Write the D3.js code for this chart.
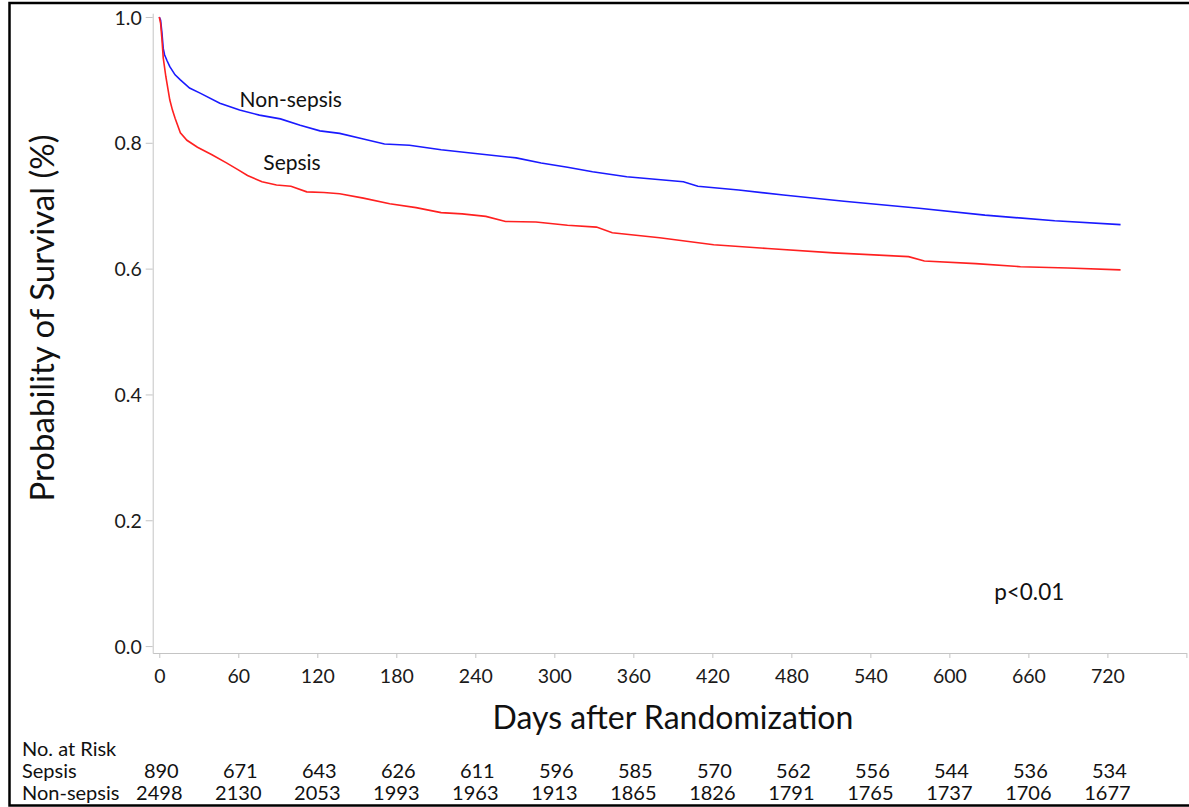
<!DOCTYPE html>
<html>
<head>
<meta charset="utf-8">
<script src="https://cdn.jsdelivr.net/npm/d3@7"></script>
<style>
  body { margin: 0; background: #fff; }
  svg { display: block; font-family: Lato, "Open Sans", sans-serif; }
  .axis path, .axis line { stroke: #c4c4c4; }
  .axis text { fill: #1a1a1a; font-size: 19.5px; font-family: Lato, sans-serif; }
</style>
</head>
<body>
<svg width="1189" height="807"></svg>
<script>
// Kaplan-Meier curves (days, survival probability)
const sepsisDays = [0, 1, 2, 3, 5, 8, 10, 12, 16, 21, 29, 40, 51, 60, 67, 78, 89, 100, 112, 125, 137, 155, 175, 195, 214, 230, 248, 263, 286, 310, 332, 344, 380, 421, 462, 512, 569, 581, 620, 654, 690, 730];
const sepsisSurv = [1.0, 0.99, 0.965, 0.935, 0.905, 0.868, 0.852, 0.839, 0.816, 0.804, 0.793, 0.781, 0.768, 0.757, 0.748, 0.738, 0.733, 0.731, 0.722, 0.721, 0.719, 0.712, 0.703, 0.697, 0.689, 0.687, 0.683, 0.675, 0.674, 0.669, 0.666, 0.657, 0.649, 0.638, 0.632, 0.625, 0.619, 0.612, 0.608, 0.603, 0.601, 0.598];

const nonSepsisDays = [0, 1, 2, 3, 4, 6, 8, 12, 16, 23, 31, 46, 61, 76, 92, 107, 122, 137, 155, 171, 190, 214, 240, 271, 290, 310, 329, 355, 398, 409, 440, 474, 520, 577, 627, 680, 730];
const nonSepsisSurv = [1.0, 0.995, 0.975, 0.95, 0.94, 0.93, 0.921, 0.908, 0.9, 0.887, 0.879, 0.863, 0.852, 0.844, 0.838, 0.828, 0.819, 0.815, 0.806, 0.798, 0.796, 0.789, 0.783, 0.776, 0.768, 0.761, 0.754, 0.746, 0.738, 0.731, 0.725, 0.717, 0.707, 0.696, 0.685, 0.676, 0.67];

const xTicks = [0, 60, 120, 180, 240, 300, 360, 420, 480, 540, 600, 660, 720, 780];
const yTicks = [0.0, 0.2, 0.4, 0.6, 0.8, 1.0];

const riskDays = [0, 60, 120, 180, 240, 300, 360, 420, 480, 540, 600, 660, 720];
const riskSepsis = [890, 671, 643, 626, 611, 596, 585, 570, 562, 556, 544, 536, 534];
const riskNonSepsis = [2498, 2130, 2053, 1993, 1963, 1913, 1865, 1826, 1791, 1765, 1737, 1706, 1677];

const svg = d3.select("svg");

// frame around the figure (top, left, bottom)
svg.append("path")
  .attr("d", "M1189,3H9.5V805.5H1189")
  .attr("fill", "none")
  .attr("stroke", "#000")
  .attr("stroke-width", 2.5);

const x = d3.scaleLinear().domain([-5, 780]).range([152.7, 1186.4]);
const y = d3.scaleLinear().domain([-0.011, 1.006]).range([653, 13.2]);

// axes
svg.append("g")
  .attr("class", "axis")
  .attr("transform", "translate(0,653)")
  .call(d3.axisBottom(x)
    .tickValues(xTicks)
    .tickSize(5)
    .tickSizeOuter(0)
    .tickFormat(d => d === 780 ? "" : d))
  .call(g => g.selectAll("text").attr("dy", "1.15em"));

svg.append("g")
  .attr("class", "axis")
  .attr("transform", "translate(152.7,0)")
  .call(d3.axisLeft(y)
    .tickValues(yTicks)
    .tickSize(7)
    .tickSizeOuter(0)
    .tickFormat(d3.format(".1f")))
  .call(g => g.selectAll("text").attr("x", -11).attr("dy", "0.36em"));

// axis titles
svg.append("text")
  .attr("transform", "translate(54,318) rotate(-90)")
  .attr("text-anchor", "middle")
  .style("font-size", "33px")
  .attr("fill", "#111")
  .text("Probability of Survival (%)");

svg.append("text")
  .attr("x", 673)
  .attr("y", 729)
  .attr("text-anchor", "middle")
  .style("font-size", "32px")
  .attr("fill", "#111")
  .text("Days after Randomization");

// curves
const line = d3.line()
  .x(d => x(d[0]))
  .y(d => y(d[1]));

const series = [
  { name: "Non-sepsis", days: nonSepsisDays, surv: nonSepsisSurv, color: "#1a1aff" },
  { name: "Sepsis", days: sepsisDays, surv: sepsisSurv, color: "#ff2020" }
];

svg.selectAll(".km")
  .data(series)
  .enter()
  .append("path")
  .attr("class", "km")
  .attr("fill", "none")
  .attr("stroke", d => d.color)
  .attr("stroke-width", 1.6)
  .attr("d", d => line(d3.zip(d.days, d.surv)));

// curve labels and p value
const notes = [
  { text: "Non-sepsis", day: 61, val: 0.857, size: 21 },
  { text: "Sepsis", day: 79, val: 0.757, size: 21 },
  { text: "p<0.01", day: 634, val: 0.073, size: 22.5 }
];
svg.selectAll(".note")
  .data(notes)
  .enter()
  .append("text")
  .attr("class", "note")
  .attr("x", d => x(d.day))
  .attr("y", d => y(d.val))
  .style("font-size", d => d.size + "px")
  .attr("fill", "#111")
  .text(d => d.text);

// number at risk table
const table = svg.append("g").style("font-size", "20px").attr("fill", "#111");
table.append("text").attr("x", 22).attr("y", 756).text("No. at Risk");
table.append("text").attr("x", 22).attr("y", 778).text("Sepsis");
table.append("text").attr("x", 22).attr("y", 800).text("Non-sepsis");

table.selectAll(".rs")
  .data(riskDays)
  .enter()
  .append("text")
  .attr("x", d => x(d) + 2)
  .attr("y", 778)
  .attr("text-anchor", "middle")
  .text((d, i) => riskSepsis[i]);

table.selectAll(".rn")
  .data(riskDays)
  .enter()
  .append("text")
  .attr("x", d => x(d))
  .attr("y", 800)
  .attr("text-anchor", "middle")
  .text((d, i) => riskNonSepsis[i]);
</script>
</body>
</html>
